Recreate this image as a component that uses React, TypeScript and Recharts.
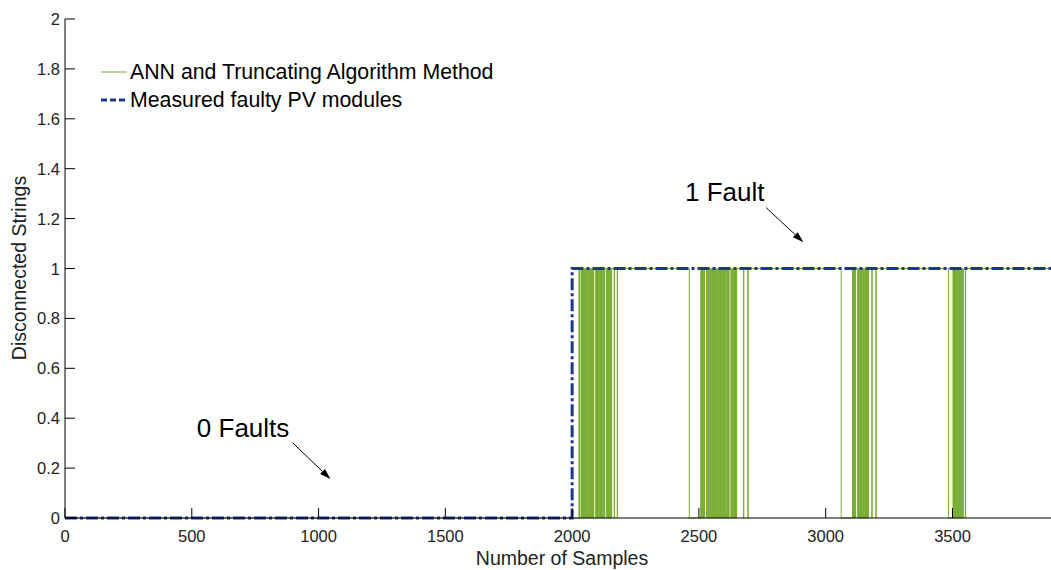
import React from 'react';
import { LineChart, Line, XAxis, YAxis, ReferenceLine, ReferenceDot } from 'recharts';

const FONT = '"Liberation Sans", Arial, sans-serif';
const GREEN = '#77ac30';
const BLUE = '#1c3792';

const xTicks = [0, 500, 1000, 1500, 2000, 2500, 3000, 3500];
const yTicks = [0, 0.2, 0.4, 0.6, 0.8, 1, 1.2, 1.4, 1.6, 1.8, 2];
const xMax = 3920;

// measured faulty strings: 0 before sample 2000, 1 after
const measuredSamples = [0, 2000, 3920];
const measuredValues = [0, 1, 1];

// ANN + truncating output: 0 until the fault, then 1 except inside these [start, end) ranges
const annDrops = [
  [2000, 2027], [2029, 2031], [2037, 2039], [2041, 2044], [2046, 2048], [2050, 2053],
  [2055, 2057], [2059, 2062], [2064, 2066], [2068, 2071], [2073, 2075], [2077, 2080],
  [2082, 2084], [2091, 2094], [2096, 2098], [2100, 2103], [2105, 2107], [2109, 2112],
  [2114, 2116], [2118, 2121], [2123, 2125], [2127, 2129], [2136, 2139], [2141, 2143],
  [2145, 2148], [2150, 2152], [2154, 2156], [2166, 2167], [2178, 2179],
  [2462, 2507], [2510, 2512], [2514, 2517], [2519, 2522], [2530, 2533], [2536, 2538],
  [2540, 2543], [2545, 2547], [2549, 2552], [2554, 2556], [2558, 2561], [2563, 2565],
  [2567, 2570], [2572, 2574], [2576, 2579], [2581, 2583], [2585, 2588], [2590, 2592],
  [2594, 2597], [2599, 2601], [2603, 2606], [2608, 2610], [2612, 2615], [2617, 2619],
  [2626, 2629], [2631, 2633], [2635, 2638], [2640, 2642], [2644, 2646], [2648, 2649],
  [2676, 2677], [2693, 2694],
  [3061, 3106], [3108, 3110], [3112, 3114], [3116, 3118], [3126, 3128], [3130, 3132],
  [3134, 3137], [3139, 3141], [3143, 3146], [3148, 3150], [3152, 3155], [3157, 3159],
  [3161, 3164], [3166, 3169], [3182, 3183], [3198, 3199],
  [3484, 3502], [3504, 3506], [3508, 3511], [3513, 3515], [3517, 3520], [3522, 3524],
  [3527, 3529], [3531, 3534], [3536, 3538], [3540, 3544], [3551, 3552],
];

const noteTexts = ['0 Faults', '1 Fault'];
const noteAt = [[520, 0.325], [2445, 1.27]];
const arrowFrom = [[897, 0.302], [2765, 1.244]];
const arrowTo = [[1047, 0.156], [2912, 1.105]];

const measuredData = measuredSamples.map((x, i) => ({ x, v: measuredValues[i] }));
const annData: { x: number; v: number }[] = [{ x: 0, v: 0 }];
annDrops.forEach(([s, e]) => {
  annData.push({ x: s, v: 0 });
  annData.push({ x: e, v: 1 });
});
annData.push({ x: xMax, v: 1 });

const tickText = { fontFamily: FONT, fontSize: 16.5, fill: '#222' };

const BottomTick = ({ x, y, payload }: any) => (
  <g>
    <line x1={x} y1={y} x2={x} y2={y - 10} stroke="#000" />
    <text x={x} y={y + 24} textAnchor="middle" {...tickText}>{payload.value}</text>
  </g>
);
const TopTick = ({ x, y }: any) => <line x1={x} y1={y} x2={x} y2={y + 10} stroke="#000" />;
const LeftTick = ({ x, y, payload }: any) => (
  <g>
    <line x1={x} y1={y} x2={x + 10} y2={y} stroke="#000" />
    <text x={x - 5} y={y + 6} textAnchor="end" {...tickText}>{payload.value}</text>
  </g>
);
const RightTick = ({ x, y }: any) => <line x1={x} y1={y} x2={x - 10} y2={y} stroke="#000" />;

const Arrow = (p: any) => {
  const { x1, y1, x2, y2 } = p;
  const a = Math.atan2(y2 - y1, x2 - x1);
  const L = 11, W = 3.5;
  const bx = x2 - L * Math.cos(a), by = y2 - L * Math.sin(a);
  const pts = `${x2},${y2} ${bx - W * Math.sin(a)},${by + W * Math.cos(a)} ${bx + W * Math.sin(a)},${by - W * Math.cos(a)}`;
  return (
    <g>
      <line x1={x1} y1={y1} x2={bx} y2={by} stroke="#000" strokeWidth={1} />
      <polygon points={pts} fill="#000" />
    </g>
  );
};

export default function App() {
  return (
    <div style={{ position: 'absolute', left: 0, top: 0, width: 1051, height: 570, overflow: 'hidden', background: '#fff' }}>
      <LineChart width={1060} height={570} margin={{ top: 19, right: 1, bottom: 22, left: 0 }}>
        <XAxis
          dataKey="x" type="number" domain={[0, xMax]} ticks={xTicks} interval={0}
          allowDataOverflow height={30} tickSize={0} tickMargin={0}
          axisLine={{ stroke: '#000' }} tick={<BottomTick />}
        />
        <XAxis
          xAxisId="top" orientation="top" dataKey="x" type="number" domain={[0, xMax]}
          ticks={xTicks} interval={0} height={0} tickSize={0} tickMargin={0}
          axisLine={{ stroke: '#000' }} tick={<TopTick />}
        />
        <YAxis
          type="number" domain={[0, 2]} ticks={yTicks} interval={0} width={65}
          tickSize={0} tickMargin={0} axisLine={{ stroke: '#000' }} tick={<LeftTick />}
        />
        <YAxis
          yAxisId="right" orientation="right" type="number" domain={[0, 2]} ticks={yTicks}
          interval={0} width={0} tickSize={0} tickMargin={0}
          axisLine={{ stroke: '#000' }} tick={<RightTick />}
        />
        <Line
          data={annData} dataKey="v" type="stepAfter" stroke={GREEN} strokeWidth={1}
          dot={false} activeDot={false} isAnimationActive={false}
        />
        <Line
          data={measuredData} dataKey="v" type="stepAfter" stroke={BLUE} strokeWidth={3}
          strokeDasharray="12 3 3 3" dot={false} activeDot={false} isAnimationActive={false}
        />
        {arrowFrom.map((f, i) => (
          <ReferenceLine
            key={'a' + i}
            segment={[{ x: f[0], y: f[1] }, { x: arrowTo[i][0], y: arrowTo[i][1] }]}
            stroke="#000" shape={Arrow}
          />
        ))}
        {noteTexts.map((t, i) => (
          <ReferenceDot
            key={'n' + i} x={noteAt[i][0]} y={noteAt[i][1]} r={0}
            shape={(p: any) => (
              <text x={p.cx} y={p.cy} fontFamily={FONT} fontSize={26} fill="#000">{t}</text>
            )}
          />
        ))}
        <g>
          <line x1={101} y1={72} x2={127} y2={72} stroke={GREEN} strokeWidth={1} />
          <text x={130} y={79} fontFamily={FONT} fontSize={21.3} fill="#000">ANN and Truncating Algorithm Method</text>
          <line x1={101} y1={100} x2={127} y2={100} stroke={BLUE} strokeWidth={3} strokeDasharray="6 3" />
          <text x={130} y={107} fontFamily={FONT} fontSize={21.3} fill="#000">Measured faulty PV modules</text>
        </g>
        <text x={562} y={565} textAnchor="middle" fontFamily={FONT} fontSize={19.5} fill="#222">Number of Samples</text>
        <text x={26} y={268} textAnchor="middle" transform="rotate(-90 26 268)" fontFamily={FONT} fontSize={19.5} fill="#222">Disconnected Strings</text>
      </LineChart>
    </div>
  );
}
